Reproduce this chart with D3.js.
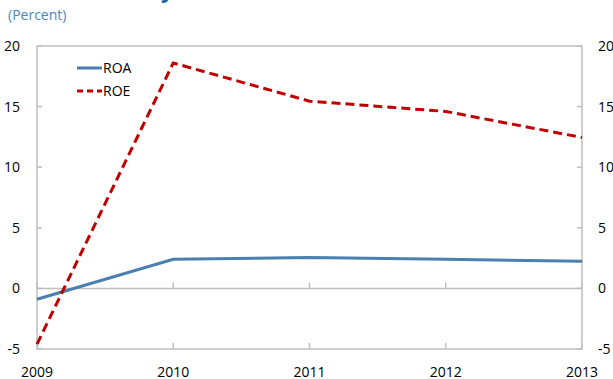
<!DOCTYPE html>
<html>
<head>
<meta charset="utf-8">
<script src="https://cdn.jsdelivr.net/npm/d3@7"></script>
<style>
  body { margin: 0; background: #fff; }
  svg { display: block; font-family: "Open Sans", "Noto Sans", sans-serif; }
</style>
</head>
<body>
<div id="chart"></div>
<script>
// Return on assets / equity, percent
const years = [2009, 2010, 2011, 2012, 2013];
const roa = [-0.9, 2.4, 2.55, 2.4, 2.25];
const roe = [-4.6, 18.6, 15.45, 14.6, 12.45];
const yTicks = [-5, 0, 5, 10, 15, 20];

const width = 613, height = 379;
const plot = { left: 37, right: 582, top: 46, bottom: 349 };
const axisColor = '#bfbfbf';

const svg = d3.select('#chart').append('svg')
  .attr('width', width)
  .attr('height', height);

// cut-off title at the very top
svg.append('text')
  .attr('x', 42)
  .attr('y', -2)
  .style('font-size', '22px')
  .style('font-weight', 'bold')
  .style('fill', '#1f5f9f')
  .text('Profitability');

svg.append('text')
  .attr('x', 8)
  .attr('y', 20)
  .style('font-size', '14px')
  .style('fill', '#4a86c5')
  .text('(Percent)');

const x = d3.scalePoint()
  .domain(years)
  .range([plot.left, plot.right]);

const y = d3.scaleLinear()
  .domain([-5, 20])
  .range([plot.bottom, plot.top]);

// plot border
svg.append('rect')
  .attr('x', plot.left)
  .attr('y', plot.top)
  .attr('width', plot.right - plot.left)
  .attr('height', plot.bottom - plot.top)
  .style('fill', 'none')
  .style('stroke', axisColor)
  .style('stroke-width', 1.5);

// zero line
svg.append('line')
  .attr('x1', plot.left).attr('x2', plot.right)
  .attr('y1', y(0)).attr('y2', y(0))
  .style('stroke', axisColor)
  .style('stroke-width', 1.5);

// x ticks on the zero line and the bottom axis
[0, -5].forEach(v => {
  svg.selectAll(null)
    .data(years)
    .enter().append('line')
    .attr('x1', d => x(d)).attr('x2', d => x(d))
    .attr('y1', y(v)).attr('y2', y(v) - 6)
    .style('stroke', axisColor)
    .style('stroke-width', 1.5);
});

// y ticks, both sides, pointing inward
svg.selectAll(null)
  .data(yTicks)
  .enter().append('line')
  .attr('x1', plot.left).attr('x2', plot.left + 5)
  .attr('y1', d => y(d)).attr('y2', d => y(d))
  .style('stroke', axisColor)
  .style('stroke-width', 1.5);

svg.selectAll(null)
  .data(yTicks)
  .enter().append('line')
  .attr('x1', plot.right - 5).attr('x2', plot.right)
  .attr('y1', d => y(d)).attr('y2', d => y(d))
  .style('stroke', axisColor)
  .style('stroke-width', 1.5);

// tick labels
svg.selectAll(null)
  .data(yTicks)
  .enter().append('text')
  .attr('x', 20)
  .attr('y', d => y(d))
  .attr('dy', '0.35em')
  .style('text-anchor', 'end')
  .style('font-size', '14px')
  .style('fill', '#000')
  .text(d => d);

svg.selectAll(null)
  .data(yTicks)
  .enter().append('text')
  .attr('x', 598)
  .attr('y', d => y(d))
  .attr('dy', '0.35em')
  .style('text-anchor', 'start')
  .style('font-size', '14px')
  .style('fill', '#000')
  .text(d => d);

svg.selectAll(null)
  .data(years)
  .enter().append('text')
  .attr('x', d => x(d))
  .attr('y', 377)
  .style('text-anchor', 'middle')
  .style('font-size', '14px')
  .style('fill', '#000')
  .text(d => d);

// lines
const line = d3.line()
  .x((d, i) => x(years[i]))
  .y(d => y(d));

svg.append('path')
  .datum(roa)
  .attr('d', line)
  .style('fill', 'none')
  .style('stroke', '#4a7fb0')
  .style('stroke-width', 3);

svg.append('path')
  .datum(roe)
  .attr('d', line)
  .style('fill', 'none')
  .style('stroke', '#c00000')
  .style('stroke-width', 3)
  .style('stroke-dasharray', '9,5');

// legend
const legendItems = [
  { name: 'ROA', color: '#4a7fb0', dash: null },
  { name: 'ROE', color: '#c00000', dash: '6,4' }
];

const legend = svg.selectAll('.legend')
  .data(legendItems)
  .enter().append('g')
  .attr('class', 'legend')
  .attr('transform', (d, i) => `translate(77, ${68 + i * 23})`);

legend.append('line')
  .attr('x1', 0).attr('x2', 25)
  .style('stroke', d => d.color)
  .style('stroke-width', 3)
  .style('stroke-dasharray', d => d.dash);

legend.append('text')
  .attr('x', 26)
  .attr('dy', '0.35em')
  .style('font-size', '14px')
  .style('fill', '#000')
  .text(d => d.name);
</script>
</body>
</html>
